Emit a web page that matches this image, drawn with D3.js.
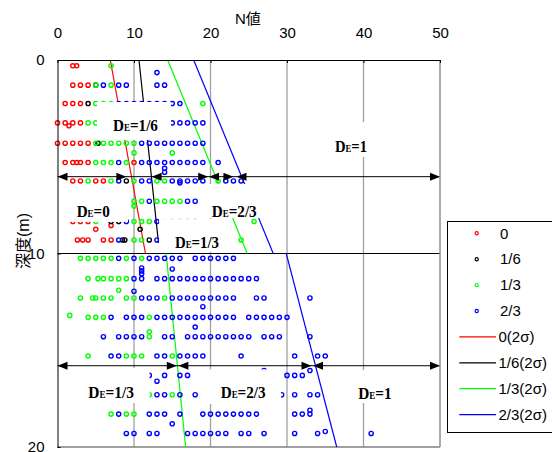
<!DOCTYPE html>
<html>
<head>
<meta charset="utf-8">
<script src="https://cdn.jsdelivr.net/npm/d3@7"></script>
<style>
body { margin: 0; background: #fff; }
</style>
</head>
<body>
<div id="chart"></div>
<script>
// axis ticks
var xTicks = [0, 10, 20, 30, 40, 50];
var yTicks = [0, 10, 20];

// N values read per depth row: [depth (m), [N, N, ...]]
var pts0 = [
  [0.3, [2, 2.5]], [1.3, [2, 3, 4]], [2.25, [1, 2, 3]], [3.25, [0, 1, 2, 3]], [3.4, [1.5]],
  [4.3, [0, 1, 2, 3, 4]], [5.3, [1, 2, 2.5, 3, 4, 10]], [6.25, [2, 3, 5, 6]],
  [8.35, [2, 3, 4]], [8.55, [7]], [8.75, [5]], [9.3, [2.6, 3.3, 4, 6, 7]]
];
var pts16 = [
  [1.3, [5]], [2.25, [4]], [4.3, [5.3]], [6.25, [9]], [8.35, [7, 8]], [8.75, [10.8]],
  [9.3, [8.5, 8.8, 12]]
];
var pts13 = [
  [0.3, [7]], [1.3, [5, 7]], [2.25, [5, 6, 7, 19]], [3.25, [4, 5]], [4.3, [5, 6, 7, 8, 9, 10]],
  [4.8, [10, 15]], [5.3, [5, 6, 7, 9]], [6.25, [4, 7, 10, 13, 14, 21]],
  [7.3, [10, 11, 13, 14, 15, 16]], [7.55, [10]], [8.35, [5, 10, 11, 12, 14, 25.7]],
  [9.3, [10, 11, 24]], [10.25, [3, 4, 5, 6, 7, 9, 11]], [11.3, [4, 5.3, 6, 7, 8, 9]],
  [11.9, [8]], [12.3, [3, 4.6, 5, 6, 7, 9, 10, 14]], [13.2, [1.6]], [13.3, [4, 5, 6, 12]],
  [14.05, [12]], [14.3, [12]], [15.3, [4, 9, 10, 11, 15]], [17.3, [12, 15]], [18.3, [7, 9, 10]]
];
var pts23 = [
  [0.65, [13]], [1.3, [6, 8, 9, 13, 14]], [2.25, [8, 9, 10, 11, 12, 13, 14, 15, 16]],
  [3.25, [15, 16, 17, 18, 19]], [4.3, [11, 12, 13, 14, 15, 16, 17, 18, 19]],
  [5.3, [8, 11, 12, 13, 14, 15, 16, 17, 18, 19, 21]], [5.6, [14]], [5.8, [14]],
  [6.25, [8, 11, 12, 15, 16, 17, 18, 19, 22, 23, 24]], [6.35, [16]], [7.3, [12, 17, 18]],
  [8.35, [9, 13, 15, 16, 17, 18]], [9.3, [8, 13]],
  [10.25, [8, 10, 12, 13, 14, 15, 16, 18, 19, 20, 21, 22, 23]],
  [10.75, [11]], [10.8, [15]], [10.9, [11]], [11.05, [11]],
  [11.3, [10, 11, 13, 14, 15, 16, 17, 18, 19, 20, 21, 22, 23, 24, 25, 26]], [11.95, [10]],
  [12.3, [11, 12, 13, 15, 16, 17, 18, 19, 20, 21, 22, 23, 26, 27, 33]], [12.75, [19]],
  [13.3, [7, 9, 10, 11, 13, 14, 15, 16, 17, 18, 19, 20, 21, 22, 23, 25, 26, 27, 28, 29, 30]],
  [13.8, [18]],
  [14.3, [6, 8, 9, 10, 11, 14, 15, 17, 18, 19, 20, 21, 22, 23, 24, 25, 27, 28, 29, 33]],
  [15.3, [7, 8, 13, 14, 16, 17, 18, 19, 24, 31, 34, 35]], [16.05, [27, 33]],
  [16.3, [12, 14, 16, 17, 30, 31, 32]], [16.6, [13]], [17.3, [13, 14, 16, 18, 29.3, 31, 33, 34]],
  [18.1, [33]], [18.3, [8, 12, 13, 14, 16, 19, 20, 21, 22, 23, 24, 25, 26, 31, 32, 33]],
  [18.8, [15]], [19.2, [35]],
  [19.3, [9, 10, 12, 13, 17, 18, 19, 20, 21, 22, 24, 25, 27, 31, 34, 41]]
];

// 2 sigma lines: [depth, N]
var line0 = [[0, 6.9], [10, 11.5]];
var line16 = [[0, 10.65], [9.45, 13.2]];
var line13 = [[[0, 14.4], [10, 24.8]], [[10, 14.2], [20, 16.75]]];
var line23 = [[[0, 17.8], [10, 28.2]], [[10, 29.9], [20, 36.5]]];

// D_E zone arrows: depth and arrow heads [N, direction]
var arrowDepths = [6.03, 15.8];
var arrowHeads = [
  [[0, -1], [9, 1], [12.3, -1], [19.7, 1], [19.8, -1], [23, 1], [23.4, -1], [50, 1]],
  [[0, -1], [15.6, 1], [15.8, -1], [33.2, 1], [33.4, -1], [50, 1]]
];

// zone labels: text after "D_E", N at start, depth of baseline, white box [N1, N2, d1, d2]
var zoneText = ["=1/6", "=1", "=0", "=2/3", "=1/3", "=1/3", "=2/3", "=1"];
var zoneAt = [[7.25, 3.67], [36.27, 4.75], [2.51, 8.11], [20.16, 8.1], [15.36, 9.73],
              [4.03, 17.47], [21.33, 17.47], [39.32, 17.52]];
var zoneWidth = [45, 32, 33, 45, 44, 45.7, 45, 33.4];
var zoneBox = [[5.16, 14.84, 2.17, 4.13], [34.97, 42.81, 3.2, 5.01], [0.59, 9.22, 6.72, 8.37],
               [18.37, 27.52, 6.41, 8.17], [13.27, 22.03, 8.22, 9.92], [0.59, 12.03, 15.92, 17.73],
               [18.37, 29.22, 15.99, 17.78], [37.58, 44.77, 16.02, 17.73]];

var seriesNames = ["0", "1/6", "1/3", "2/3"];
var colors = ["#ff0000", "#000000", "#00ff00", "#0000ff"];

var W = 552, H = 452;
var sans = "'Liberation Sans', Arial, 'Noto Sans CJK JP', sans-serif";

var svg = d3.select("#chart").append("svg")
    .attr("width", W)
    .attr("height", H);

var x = d3.scaleLinear().domain([0, 50]).range([57.5, 440]);
var y = d3.scaleLinear().domain([0, 20]).range([60, 447]);

// grid and frame
svg.append("g").selectAll("line")
    .data(xTicks.slice(1))
    .join("line")
    .attr("x1", d => x(d)).attr("x2", d => x(d))
    .attr("y1", y(0)).attr("y2", y(20))
    .attr("stroke", "#a0a0a0")
    .attr("stroke-width", 1.3);

svg.append("line")
    .attr("x1", x(0)).attr("x2", x(50))
    .attr("y1", y(20)).attr("y2", y(20))
    .attr("stroke", "#808080")
    .attr("stroke-width", 1.3);

svg.append("line")
    .attr("x1", x(0)).attr("x2", x(50))
    .attr("y1", y(10)).attr("y2", y(10))
    .attr("stroke", "#000")
    .attr("stroke-width", 1);

// regression lines
var path = d3.line().x(p => x(p[1])).y(p => y(p[0]));
var allLines = [[line0], [line16], line13, line23];
allLines.forEach(function(segs, i) {
    segs.forEach(function(seg) {
        svg.append("path")
            .attr("d", path(seg))
            .attr("fill", "none")
            .attr("stroke", colors[i])
            .attr("stroke-width", 1.2);
    });
});

// points
function expand(rows) {
    return rows.flatMap(r => r[1].map(n => ({ d: r[0], n: n })));
}
[pts0, pts16, pts13, pts23].forEach(function(rows, i) {
    svg.append("g").selectAll("circle")
        .data(expand(rows))
        .join("circle")
        .attr("cx", p => x(p.n))
        .attr("cy", p => y(p.d))
        .attr("r", 2.1)
        .attr("fill", "none")
        .attr("stroke", colors[i])
        .attr("stroke-width", 1.4);
});

// white label boxes with D_E labels
svg.append("g").selectAll("rect")
    .data(zoneBox)
    .join("rect")
    .attr("x", b => x(b[0]))
    .attr("y", b => y(b[2]))
    .attr("width", b => x(b[1]) - x(b[0]))
    .attr("height", b => y(b[3]) - y(b[2]))
    .attr("fill", "#fff");

zoneText.forEach(function(t, i) {
    var txt = svg.append("text")
        .attr("x", x(zoneAt[i][0]))
        .attr("y", y(zoneAt[i][1]))
        .attr("font-family", "'Liberation Serif', 'Times New Roman', serif")
        .attr("font-weight", "bold")
        .attr("font-size", 17)
        .attr("textLength", zoneWidth[i])
        .attr("lengthAdjust", "spacingAndGlyphs");
    txt.append("tspan").text("D");
    txt.append("tspan").attr("font-size", 10).text("E");
    txt.append("tspan").text(t);
});

// arrows
arrowDepths.forEach(function(d, i) {
    var ay = y(d);
    svg.append("line")
        .attr("x1", x(0)).attr("x2", x(50))
        .attr("y1", ay).attr("y2", ay)
        .attr("stroke", "#000")
        .attr("stroke-width", 1);
    svg.append("g").selectAll("path")
        .data(arrowHeads[i])
        .join("path")
        .attr("d", function(h) {
            var tx = x(h[0]), bx = tx - h[1] * 10;
            return "M" + tx + "," + ay + "L" + bx + "," + (ay - 4) + "L" + bx + "," + (ay + 4) + "Z";
        })
        .attr("fill", "#000");
});

// right border
svg.append("line")
    .attr("x1", x(50)).attr("x2", x(50))
    .attr("y1", y(0)).attr("y2", y(20))
    .attr("stroke", "#a0a0a0")
    .attr("stroke-width", 1.3);

// axes
var xAxis = svg.append("g")
    .attr("transform", "translate(0," + y(0) + ")")
    .call(d3.axisTop(x).tickValues(xTicks).tickSizeInner(-3).tickSizeOuter(0).tickPadding(22));
var yAxis = svg.append("g")
    .attr("transform", "translate(" + x(0) + ",0)")
    .call(d3.axisLeft(y).tickValues(yTicks).tickSizeInner(-3).tickSizeOuter(0).tickPadding(13));
[xAxis, yAxis].forEach(function(a) {
    a.attr("font-family", sans).attr("font-size", 15);
    a.selectAll("text").attr("fill", "#000");
});

svg.append("text")
    .attr("x", 235)
    .attr("y", 24)
    .attr("font-family", sans)
    .attr("font-size", 15)
    .text("N値");

svg.append("text")
    .attr("transform", "translate(29,241) rotate(-90)")
    .attr("text-anchor", "middle")
    .attr("font-family", sans)
    .attr("font-size", 16)
    .text("深度(m)");

// legend
var legend = svg.append("g");
legend.append("rect")
    .attr("x", 447.5).attr("y", 221.5)
    .attr("width", 140).attr("height", 211)
    .attr("fill", "#fff")
    .attr("stroke", "#000");

seriesNames.forEach(function(name, i) {
    var ly = 233.3 + i * 25.9;
    legend.append("circle")
        .attr("cx", 476.7).attr("cy", ly).attr("r", 1.6)
        .attr("fill", "none").attr("stroke", colors[i]).attr("stroke-width", 1.2);
    legend.append("text")
        .attr("x", 500).attr("y", ly).attr("dy", "0.35em")
        .attr("font-family", sans).attr("font-size", 15)
        .text(name);
    var ly2 = 233.3 + (i + 4) * 25.9;
    legend.append("line")
        .attr("x1", 459.3).attr("x2", 496)
        .attr("y1", ly2).attr("y2", ly2)
        .attr("stroke", colors[i]).attr("stroke-width", 1.2);
    legend.append("text")
        .attr("x", 498.5).attr("y", ly2).attr("dy", "0.35em")
        .attr("font-family", sans).attr("font-size", 15)
        .text(name + "(2σ)");
});
</script>
</body>
</html>
